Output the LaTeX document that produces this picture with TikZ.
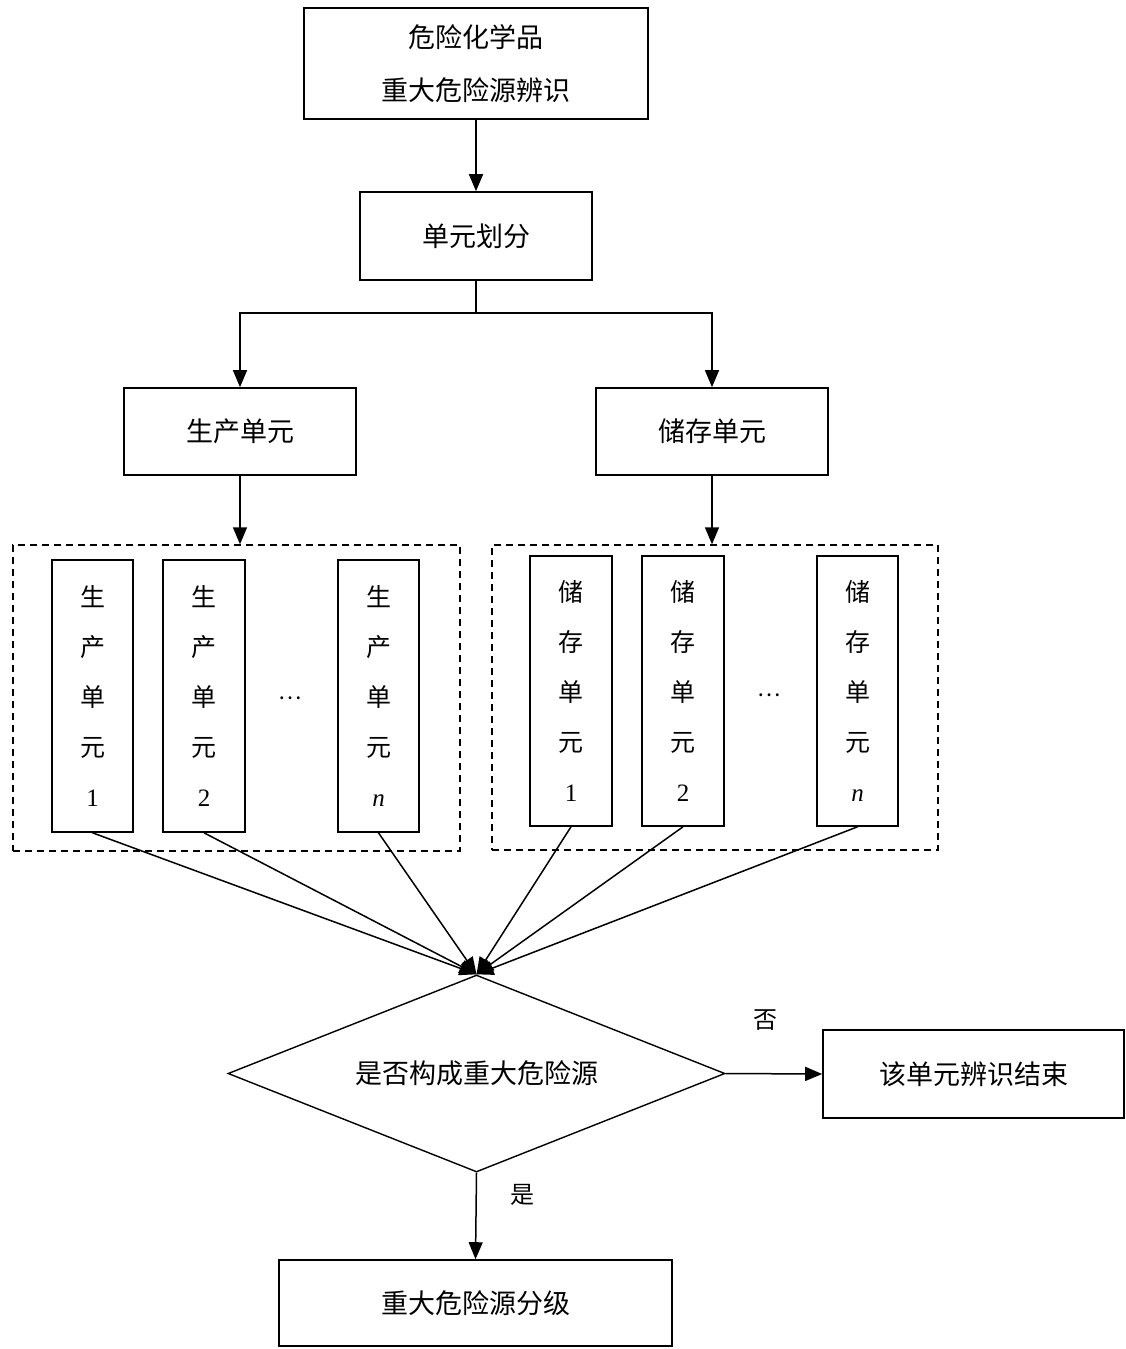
\documentclass[tikz,border=0pt]{standalone}
\usepackage{fontspec}
\setmainfont{Liberation Serif}
\newfontfamily\cjk{Noto Sans CJK SC}
\usetikzlibrary{arrows.meta,shapes.geometric}
\tikzset{
  box/.style={draw, line width=1.6pt, rectangle, inner sep=0pt, align=center, font=\cjk\fontsize{27}{53}\selectfont},
  vbox/.style={draw, line width=1.6pt, rectangle, inner sep=0pt, align=center, minimum width=81pt, font=\cjk\fontsize{25}{50}\selectfont},
  dbox/.style={draw, line width=1.4pt, dash pattern=on 7pt off 5pt, rectangle, inner sep=0pt},
  conn/.style={line width=1.5pt, -{Triangle[length=17pt,width=14pt]}},
  plain/.style={line width=1.5pt},
  lbl/.style={font=\cjk\fontsize{24}{28}\selectfont, inner sep=0pt},
  dots/.style={font=\cjk\fontsize{22}{26}\selectfont, inner sep=0pt}
}
\begin{document}
\begin{tikzpicture}[x=1pt,y=-1pt]
\useasboundingbox (0,0) rectangle (1126,1349);
% main boxes
\node[box, minimum width=344pt, minimum height=111pt] (top) at (476,63.5) {危险化学品\\重大危险源辨识};
\node[box, minimum width=232pt, minimum height=88pt] (unit) at (476,236) {单元划分};
\node[box, minimum width=232pt, minimum height=87pt] (prod) at (240,431.5) {生产单元};
\node[box, minimum width=232pt, minimum height=87pt] (stor) at (712,431.5) {储存单元};
% dashed groups
\node[dbox, minimum width=447pt, minimum height=306pt] (dl) at (236.5,698) {};
\node[dbox, minimum width=446pt, minimum height=305pt] (dr) at (715,697.5) {};
% small production boxes
\node[vbox, minimum height=272pt] (p1) at (92.5,696) {生\\产\\单\\元\\{\rmfamily 1}};
\node[vbox, minimum height=272pt, minimum width=82pt] (p2) at (204,696) {生\\产\\单\\元\\{\rmfamily 2}};
\node[vbox, minimum height=272pt] (pn) at (378.5,696) {生\\产\\单\\元\\{\rmfamily\itshape n}};
\node[dots] (pd) at (290,698) {…};
% small storage boxes
\node[vbox, minimum height=270pt, minimum width=82pt] (s1) at (571,691) {储\\存\\单\\元\\{\rmfamily 1}};
\node[vbox, minimum height=270pt, minimum width=82pt] (s2) at (683,691) {储\\存\\单\\元\\{\rmfamily 2}};
\node[vbox, minimum height=270pt] (sn) at (857.5,691) {储\\存\\单\\元\\{\rmfamily\itshape n}};
\node[dots] (sd) at (769,695) {…};
% decision
\node[draw, diamond, shape aspect=2.52, line width=1.4pt, inner sep=0pt, minimum width=497pt, minimum height=197pt, font=\cjk\fontsize{27}{30}\selectfont] (dec) at (476.5,1073.5) {是否构成重大危险源};
\node[box, minimum width=301pt, minimum height=88pt] (endb) at (973.5,1074) {该单元辨识结束};
\node[box, minimum width=393pt, minimum height=86pt] (grade) at (475.5,1303) {重大危险源分级};
\node[lbl] (no) at (765,1020) {否};
\node[lbl] (yes) at (522,1195) {是};
% connectors
\draw[conn] (top.south) -- (unit.north);
\coordinate (split) at (476,313);
\draw[plain] (unit.south) -- (split);
\draw[conn] (split) -| (prod.north);
\draw[conn] (split) -| (stor.north);
\draw[conn] (prod.south) -- (prod.south |- dl.north);
\draw[conn] (stor.south) -- (stor.south |- dr.north);
\foreach \n in {p1,p2,pn,s1,s2,sn}{
  \draw[conn] (\n.south) -- (dec.north);
}
\draw[conn] (dec.east) -- (endb.west);
\draw[conn] (dec.south) -- (grade.north);
\end{tikzpicture}
\end{document}
